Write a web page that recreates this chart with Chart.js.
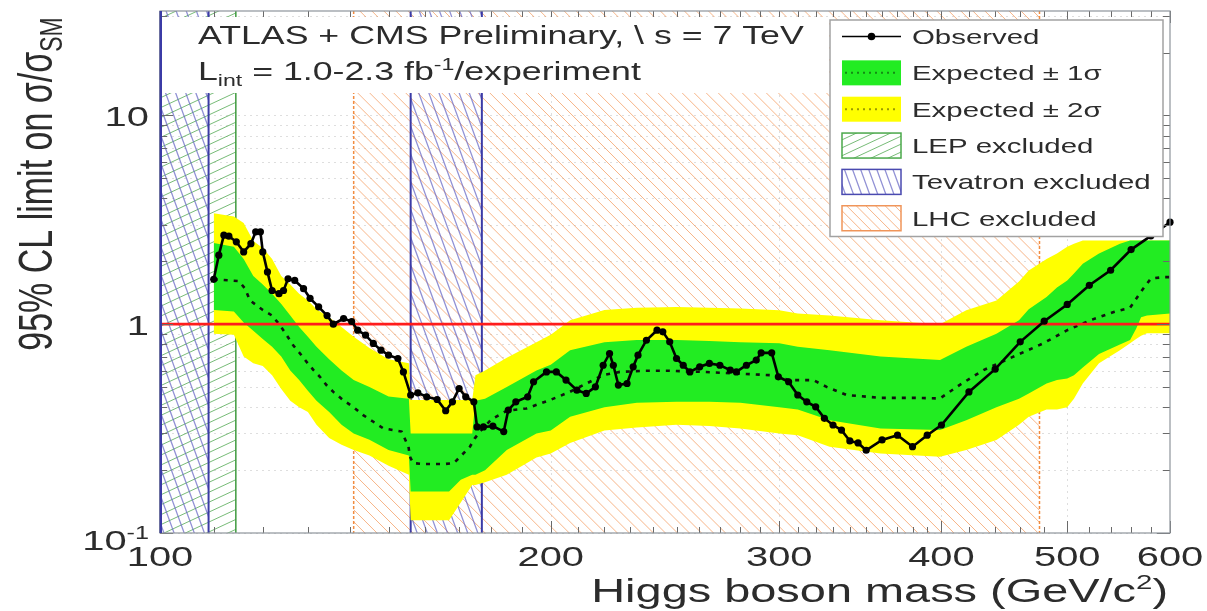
<!DOCTYPE html>
<html>
<head>
<meta charset="utf-8">
<title>Higgs limit</title>
<script src="https://cdn.jsdelivr.net/npm/chart.js@4.4.1/dist/chart.umd.min.js"></script>
<style>
  html, body { margin: 0; padding: 0; background: #fff; }
  #wrap { width: 1207px; height: 611px; }
</style>
</head>
<body>
<div id="wrap"><canvas id="limitChart" width="1207" height="611"></canvas></div>
<script>
// observed 95% CL limit on sigma/sigma_SM vs Higgs mass (GeV)
const obsMass = [110, 111, 112, 113, 114.5, 116, 117.5, 118.5, 119.5, 120,
  121, 122, 123.5, 124.5, 125.5, 127, 129, 130.5, 132.5, 134.5,
  136, 138.5, 140.5, 142, 144, 146, 148, 150, 152.5, 154,
  156, 158, 160.5, 163.5, 166, 168, 170, 172, 174.5, 175.5,
  177.5, 180.5, 184, 185.5, 188, 192, 194, 198.5, 202, 205.5,
  209.5, 213, 216.5, 219.5, 222, 223.5, 225.5, 229, 231.5, 233.5,
  237, 241.5, 244, 247, 250, 253, 256, 260.5, 265, 270,
  275, 278, 283, 288, 290.5, 296, 299.5, 305, 310, 315,
  320, 325, 330, 335, 340, 345, 350, 360, 370, 380,
  390, 400, 420, 440, 460, 480, 500, 520, 540, 560,
  580, 600];
const obsLimit = [1.64, 2.14, 2.67, 2.64, 2.48, 2.22, 2.43, 2.77, 2.77, 2.22,
  1.78, 1.45, 1.40, 1.45, 1.65, 1.62, 1.48, 1.33, 1.21, 1.10,
  1.00, 1.065, 1.03, 0.936, 0.886, 0.809, 0.751, 0.711, 0.685, 0.591,
  0.458, 0.469, 0.449, 0.436, 0.385, 0.425, 0.492, 0.449, 0.425, 0.322,
  0.322, 0.325, 0.306, 0.388, 0.425, 0.449, 0.530, 0.591, 0.591, 0.540,
  0.483, 0.466, 0.501, 0.636, 0.724, 0.636, 0.511, 0.520, 0.625, 0.711,
  0.838, 0.936, 0.919, 0.823, 0.685, 0.636, 0.591, 0.625, 0.649, 0.636,
  0.603, 0.591, 0.636, 0.673, 0.729, 0.729, 0.560, 0.530, 0.458, 0.425,
  0.402, 0.354, 0.329, 0.311, 0.276, 0.270, 0.249, 0.279, 0.294, 0.259,
  0.294, 0.329, 0.474, 0.609, 0.823, 1.034, 1.243, 1.536, 1.813, 2.277,
  2.65, 3.08];

// expected (median) limit
const expMass = [110, 115, 116.3, 117.3, 120, 122, 123.7, 125.2, 126.7, 128.2,
  129.7, 131.3, 132.8, 134.4, 136, 138.4, 141, 143.4, 146, 148.6,
  151.3, 153.5, 155.4, 155.8, 156.7, 159.5, 163, 165.8, 168.4, 170.8,
  173.3, 174.8, 176.4, 180, 185, 191.6, 199.7, 206.9, 213.1, 219.5,
  226.1, 235.7, 247, 262, 278, 295, 305.5, 318.6, 326.3, 338,
  359, 381, 399, 413, 431, 454, 479, 500, 521, 543,
  559, 571, 580, 593, 600];
const expLimit = [1.64, 1.61, 1.48, 1.30, 1.17, 1.10, 0.99, 0.886, 0.79, 0.724,
  0.66, 0.603, 0.56, 0.51, 0.474, 0.433, 0.40, 0.367, 0.341, 0.317,
  0.311, 0.306, 0.259, 0.232, 0.216, 0.214, 0.214, 0.214, 0.216, 0.236,
  0.259, 0.284, 0.306, 0.35, 0.385, 0.395, 0.433, 0.474, 0.52, 0.57,
  0.591, 0.598, 0.598, 0.591, 0.581, 0.570, 0.540, 0.540, 0.501, 0.458,
  0.444, 0.444, 0.441, 0.511, 0.603, 0.697, 0.809, 0.936, 1.045, 1.145,
  1.20, 1.455, 1.654, 1.68, 1.68];

// expected +-1 sigma / +-2 sigma band edges
const bandMass = [110, 114, 116, 118, 120, 122, 124, 126, 128, 130,
  132, 135, 138, 141, 145, 150, 155.5, 156, 167, 170.5,
  174, 175, 178, 185, 195, 200, 207, 220, 233, 250,
  265, 280, 300, 310, 328, 359, 399, 418, 441, 459,
  467, 482, 491, 500, 506, 514, 529, 549, 559, 565,
  570, 576, 600];
const band2Lo = [0.90, 0.89, 0.70, 0.65, 0.63, 0.57, 0.49, 0.43, 0.40, 0.38,
  0.33, 0.285, 0.265, 0.25, 0.235, 0.21, 0.19, 0.115, 0.115, 0.14,
  0.17, 0.17, 0.175, 0.19, 0.23, 0.24, 0.27, 0.31, 0.32, 0.33,
  0.325, 0.317, 0.30, 0.294, 0.259, 0.24, 0.232, 0.25, 0.279, 0.33,
  0.36, 0.39, 0.39, 0.40, 0.44, 0.52, 0.65, 0.75, 0.81, 0.85,
  0.88, 0.905, 0.905];
const band1Lo = [1.17, 1.15, 1.02, 0.93, 0.85, 0.78, 0.70, 0.60, 0.54, 0.48,
  0.43, 0.38, 0.33, 0.30, 0.28, 0.25, 0.235, 0.158, 0.158, 0.18,
  0.19, 0.19, 0.20, 0.25, 0.30, 0.31, 0.36, 0.40, 0.42, 0.425,
  0.425, 0.42, 0.40, 0.39, 0.347, 0.317, 0.311, 0.347, 0.40, 0.44,
  0.466, 0.52, 0.54, 0.55, 0.57, 0.62, 0.72, 0.80, 0.84, 0.95,
  1.08, 1.10, 1.125];
const band1Hi = [2.45, 2.35, 2.05, 1.70, 1.55, 1.40, 1.25, 1.10, 0.97, 0.87,
  0.78, 0.68, 0.60, 0.54, 0.50, 0.45, 0.44, 0.30, 0.30, 0.30,
  0.30, 0.43, 0.44, 0.50, 0.60, 0.64, 0.75, 0.82, 0.84, 0.84,
  0.83, 0.82, 0.81, 0.78, 0.75, 0.70, 0.673, 0.78, 0.90, 1.045,
  1.18, 1.35, 1.50, 1.62, 1.75, 1.95, 2.18, 2.43, 2.52, 2.52,
  2.52, 2.52, 2.52];
const band2Hi = [3.40, 3.28, 3.05, 2.50, 2.32, 2.05, 1.70, 1.55, 1.40, 1.30,
  1.18, 1.08, 0.97, 0.87, 0.77, 0.68, 0.65, 0.433, 0.433, 0.433,
  0.433, 0.57, 0.60, 0.69, 0.82, 0.89, 1.045, 1.17, 1.20, 1.21,
  1.20, 1.19, 1.167, 1.125, 1.10, 1.045, 1.0, 1.167, 1.30, 1.60,
  1.81, 2.05, 2.18, 2.35, 2.43, 2.52, 2.52, 2.52, 2.52, 2.52,
  2.52, 2.52, 2.52];

// excluded mass ranges (GeV)
const lepExcl = [[100, 114.4]];
const tevExcl = [[100, 109], [156, 177]];
const lhcExcl = [[141, 476]];

// axes
const xTicks = [100, 200, 300, 400, 500, 600];
const xTickText = ['100', '200', '300', '400', '500', '600'];
const xMinor = [110, 120, 130, 140, 150, 160, 170, 180, 190, 210, 220, 230, 240, 250, 260, 270, 280, 290,
  310, 320, 330, 340, 350, 360, 370, 380, 390, 420, 440, 460, 480, 520, 540, 560, 580];
const yTicks = [0.1, 1, 10];
const yTickText = ['10', '1', '10'];
const yTickSup = ['-1', '', ''];
const yMinor = [0.2, 0.3, 0.4, 0.5, 0.6, 0.7, 0.8, 0.9, 2, 3, 4, 5, 6, 7, 8, 9, 20, 30];

const legendLabels = ['Observed', 'Expected \u00b1 1\u03c3', 'Expected \u00b1 2\u03c3',
  'LEP excluded', 'Tevatron excluded', 'LHC excluded'];

const GREEN = '#22ec22';
const YELLOW = '#ffff00';
const LHC_COL = 'rgba(243,150,85,0.7)';
const TEV_COL = 'rgba(100,100,195,0.7)';
const LEP_COL = 'rgba(85,170,85,0.8)';
const INK = '#2c2c2c';
const SX = 1.4;
const FONT = '"Liberation Sans", Arial, Helvetica, sans-serif';

const pts = (xs, ys) => xs.map((m, i) => ({ x: m, y: ys[i] }));

// draw a run of text pieces ([text, size, dy]) with horizontal stretch
function textRuns(ctx, parts, x, y, align, rotate) {
  let w = 0;
  for (const p of parts) { ctx.font = p[1] + 'px ' + FONT; w += ctx.measureText(p[0]).width; }
  ctx.save();
  ctx.translate(x, y);
  if (rotate) { ctx.rotate(-Math.PI / 2); ctx.scale(1, SX); } else { ctx.scale(SX, 1); }
  ctx.textAlign = 'left';
  ctx.textBaseline = 'alphabetic';
  ctx.fillStyle = INK;
  let cx = align === 'right' ? -w : (align === 'center' ? -w / 2 : 0);
  for (const p of parts) {
    ctx.font = p[1] + 'px ' + FONT;
    ctx.fillText(p[0], cx, p[2] || 0);
    cx += ctx.measureText(p[0]).width;
  }
  ctx.restore();
}

// parallel hatch lines inside a rectangle
function hatchRect(ctx, x0, y0, w, h, angleDeg, gap, color, lw) {
  ctx.save();
  ctx.beginPath();
  ctx.rect(x0, y0, w, h);
  ctx.clip();
  const a = angleDeg * Math.PI / 180;
  const ux = Math.cos(a), uy = Math.sin(a);
  const nx = -uy, ny = ux;
  const cx = x0 + w / 2, cy = y0 + h / 2;
  const R = Math.hypot(w, h) / 2 + gap;
  ctx.strokeStyle = color;
  ctx.lineWidth = lw;
  ctx.beginPath();
  for (let s = -R; s <= R; s += gap) {
    const px = cx + nx * s, py = cy + ny * s;
    ctx.moveTo(px - ux * R, py - uy * R);
    ctx.lineTo(px + ux * R, py + uy * R);
  }
  ctx.stroke();
  ctx.restore();
}

const hatchStyles = {
  lhc: [45, 8.5, LHC_COL, 1],
  tev: [70, 9.5, TEV_COL, 1.3],
  lep: [-25, 9, LEP_COL, 1]
};

const overlay = {
  id: 'overlay',
  beforeDatasetsDraw(chart) {
    const { ctx, chartArea: a, scales: { x, y } } = chart;
    const h = a.bottom - a.top;
    ctx.save();

    // dotted grid
    ctx.strokeStyle = 'rgba(160,160,160,0.35)';
    ctx.lineWidth = 1;
    ctx.setLineDash([2, 4]);
    ctx.beginPath();
    yMinor.concat(yTicks).forEach(v => {
      const py = Math.round(y.getPixelForValue(v)) + 0.5;
      ctx.moveTo(a.left, py); ctx.lineTo(a.right, py);
    });
    xTicks.slice(1, -1).forEach(v => {
      const px = Math.round(x.getPixelForValue(v)) + 0.5;
      ctx.moveTo(px, a.top); ctx.lineTo(px, a.bottom);
    });
    ctx.stroke();
    ctx.setLineDash([]);

    // exclusion regions
    const region = (list, st) => list.forEach(([lo, hi]) => {
      const x0 = x.getPixelForValue(lo), x1 = x.getPixelForValue(hi);
      hatchRect(ctx, x0, a.top, x1 - x0, h, st[0], st[1], st[2], st[3]);
    });
    region(lhcExcl, hatchStyles.lhc);
    region(lepExcl, hatchStyles.lep);
    region(tevExcl, hatchStyles.tev);

    const edge = (m, color, lw, dash) => {
      const px = x.getPixelForValue(m);
      ctx.strokeStyle = color; ctx.lineWidth = lw; ctx.setLineDash(dash);
      ctx.beginPath(); ctx.moveTo(px, a.top); ctx.lineTo(px, a.bottom); ctx.stroke();
    };
    lhcExcl.forEach(([lo, hi]) => { edge(lo, '#f28c40', 1.5, [3, 2]); edge(hi, '#f28c40', 1.5, [3, 2]); });
    lepExcl.forEach(([lo, hi]) => edge(hi, '#3f9a3f', 1.5, []));
    tevExcl.forEach(([lo, hi]) => { edge(lo, '#3b3ba6', 2, []); edge(hi, '#3b3ba6', 2, []); });
    ctx.restore();
  },
  afterDatasetsDraw(chart) {
    const { ctx, chartArea: a, scales: { x, y } } = chart;
    ctx.save();

    // tick marks on all four sides
    ctx.strokeStyle = '#6a6a6a';
    ctx.lineWidth = 1;
    ctx.beginPath();
    const xt = (m, len) => {
      const px = Math.round(x.getPixelForValue(m)) + 0.5;
      ctx.moveTo(px, a.bottom); ctx.lineTo(px, a.bottom - len);
      ctx.moveTo(px, a.top); ctx.lineTo(px, a.top + len);
    };
    const yt = (v, len) => {
      const py = Math.round(y.getPixelForValue(v)) + 0.5;
      ctx.moveTo(a.right, py); ctx.lineTo(a.right - len, py);
      ctx.moveTo(a.left, py); ctx.lineTo(a.left + len, py);
    };
    xMinor.forEach(m => xt(m, 6));
    xTicks.forEach(m => xt(m, 12));
    yMinor.forEach(v => yt(v, 7));
    yTicks.forEach(v => yt(v, 13));
    ctx.stroke();

    // frame
    ctx.strokeStyle = '#8e949c';
    ctx.lineWidth = 1.2;
    ctx.strokeRect(a.left, a.top, a.right - a.left, a.bottom - a.top);
    ctx.strokeStyle = '#3b3ba6';
    ctx.lineWidth = 2;
    ctx.beginPath(); ctx.moveTo(a.left + 1, a.top); ctx.lineTo(a.left + 1, a.bottom); ctx.stroke();

    // header text box
    ctx.fillStyle = '#fff';
    ctx.fillRect(a.left + 2, 17, 829 - a.left - 2, 76);
    textRuns(ctx, [['ATLAS + CMS Preliminary, \\ s = 7 TeV', 25.5]], 198, 43.5, 'left');
    textRuns(ctx, [['L', 25.5], ['int', 16.5, 6], [' = 1.0-2.3 fb', 25.5], ['-1', 16.5, -10], ['/experiment', 25.5]],
      198, 80, 'left');

    // legend
    const lx = 830, ly = 20, lw = 333, lh = 216.5;
    ctx.fillStyle = '#fff';
    ctx.fillRect(lx, ly, lw, lh);
    ctx.strokeStyle = '#a2a2a2';
    ctx.lineWidth = 1.5;
    ctx.strokeRect(lx, ly, lw, lh);
    const sx = 842, sw = 59, sh = 25;
    legendLabels.forEach((lab, i) => {
      const cy = 36.5 + i * 36.35;
      const sy = cy - sh / 2;
      if (i === 0) {
        ctx.strokeStyle = '#000'; ctx.lineWidth = 1.5;
        ctx.beginPath(); ctx.moveTo(sx, cy); ctx.lineTo(sx + sw, cy); ctx.stroke();
        ctx.fillStyle = '#000';
        ctx.beginPath(); ctx.arc(sx + sw / 2, cy, 3.8, 0, Math.PI * 2); ctx.fill();
      } else if (i === 1 || i === 2) {
        ctx.fillStyle = i === 1 ? GREEN : YELLOW;
        ctx.fillRect(sx, sy, sw, sh);
        ctx.strokeStyle = i === 1 ? '#148a14' : '#9a9a00';
        ctx.lineWidth = 2; ctx.setLineDash([2, 4]);
        ctx.beginPath(); ctx.moveTo(sx + 3, cy); ctx.lineTo(sx + sw - 3, cy); ctx.stroke();
        ctx.setLineDash([]);
      } else {
        const st = i === 3 ? hatchStyles.lep : (i === 4 ? hatchStyles.tev : hatchStyles.lhc);
        const border = i === 3 ? '#4aa84a' : (i === 4 ? '#4a4ab0' : '#f0955a');
        hatchRect(ctx, sx, sy, sw, sh, st[0], st[1] * 0.8, st[2], st[3]);
        ctx.strokeStyle = border; ctx.lineWidth = 1.5;
        ctx.strokeRect(sx, sy, sw, sh);
      }
      textRuns(ctx, [[lab, 21]], 912, cy + 7.5, 'left');
    });

    // tick labels
    xTicks.forEach((m, i) => textRuns(ctx, [[xTickText[i], 28.5]], x.getPixelForValue(m), 566, 'center'));
    yTicks.forEach((v, i) => {
      const py = y.getPixelForValue(v);
      const parts = [[yTickText[i], 28.5]];
      if (yTickSup[i]) parts.push([yTickSup[i], 18, -11]);
      textRuns(ctx, parts, 149, v === 0.1 ? 550 : py + 10.5, 'right');
    });

    // axis titles
    textRuns(ctx, [['Higgs boson mass (GeV/c', 33.5], ['2', 21, -13], [')', 33.5]], 1168, 602, 'right');
    textRuns(ctx, [['95% CL limit on \u03c3/\u03c3', 34], ['SM', 23, 7]], 52, 184, 'center', true);
    ctx.restore();
  }
};

const noLine = { borderColor: 'rgba(0,0,0,0)', borderWidth: 0, pointRadius: 0 };

new Chart(document.getElementById('limitChart'), {
  type: 'line',
  data: {
    datasets: [
      Object.assign({ label: 'Expected \u00b1 2\u03c3 (upper)', data: pts(bandMass, band2Hi), fill: 1, backgroundColor: YELLOW, order: 20 }, noLine),
      Object.assign({ label: 'Expected \u00b1 2\u03c3 (lower)', data: pts(bandMass, band2Lo), fill: false, order: 20 }, noLine),
      Object.assign({ label: 'Expected \u00b1 1\u03c3 (upper)', data: pts(bandMass, band1Hi), fill: 3, backgroundColor: GREEN, order: 19 }, noLine),
      Object.assign({ label: 'Expected \u00b1 1\u03c3 (lower)', data: pts(bandMass, band1Lo), fill: false, order: 19 }, noLine),
      {
        label: 'Expected', data: pts(expMass, expLimit), fill: false, order: 5,
        borderColor: '#111', borderWidth: 2.6, borderDash: [4, 6], pointRadius: 0
      },
      {
        label: 'SM', data: [{ x: 100, y: 1 }, { x: 600, y: 1 }], fill: false, order: 4,
        borderColor: '#ff1c1c', borderWidth: 2.8, pointRadius: 0
      },
      {
        label: 'Observed', data: pts(obsMass, obsLimit), fill: false, order: 1, clip: false,
        borderColor: '#000', borderWidth: 2.6, pointRadius: 3.6,
        pointBackgroundColor: '#000', pointBorderColor: '#000', pointBorderWidth: 0
      }
    ]
  },
  options: {
    responsive: false,
    animation: false,
    devicePixelRatio: 1,
    layout: { padding: { left: 160, right: 37, top: 11, bottom: 78 } },
    plugins: { legend: { display: false }, tooltip: { enabled: false } },
    scales: {
      x: { type: 'logarithmic', min: 100, max: 600, display: false },
      y: { type: 'logarithmic', min: 0.1, max: Math.pow(10, 1.5), display: false }
    }
  },
  plugins: [overlay]
});
</script>
</body>
</html>
